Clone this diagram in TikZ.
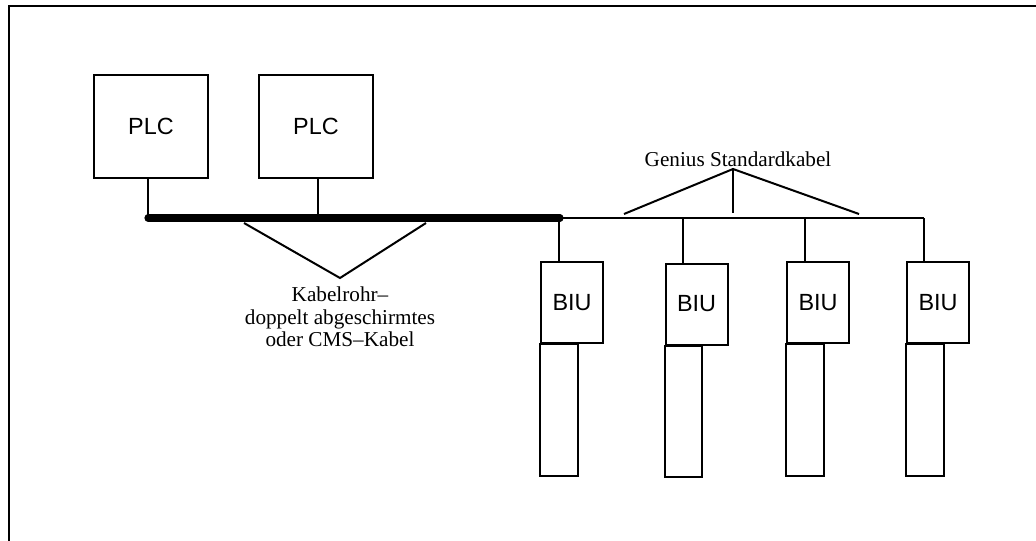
\documentclass[tikz,border=0pt]{standalone}
\usepackage{fontspec}
\setmainfont{Liberation Serif}
\setsansfont{Liberation Sans}
\usetikzlibrary{calc}

\begin{document}
\begin{tikzpicture}[x=0.5pt, y=-0.5pt, line width=1pt,
		plcbox/.style={draw, minimum width=57pt, minimum height=51.5pt, inner sep=0pt, font=\sffamily\fontsize{11.7}{14}\selectfont},
		biubox/.style={draw, minimum width=31pt, minimum height=40.5pt, inner sep=0pt, font=\sffamily\fontsize{11.7}{14}\selectfont},
		note/.style={font=\fontsize{10.6}{11.2}\selectfont, align=center, inner sep=0pt}]
		%%%%% START %%%%%
		\useasboundingbox (0, 0) rectangle (1036, 540);
		\draw (9, 560) -- (9, 6) -- (1060, 6);
		
		\node[plcbox] (plc1) at (151, 126.5) {PLC};
		\node[plcbox] (plc2) at (316, 126.5) {PLC};
		
		\coordinate (busL) at (148, 218);
		\coordinate (busM) at (560, 218);
		\coordinate (busR) at (924, 218);
		\coordinate (tap2) at (318, 218);
		
		\draw (plc1.south -| busL) -- (busL);
		\draw (plc2.south -| tap2) -- (tap2);
		\draw[line width=3.6pt, line cap=round] (busL) -- (busM);
		\draw (busM) -- (busR);
		
		\node[biubox] (biu1) at (572, 302.5) {BIU};
		\node[biubox] (biu2) at (696.5, 304) {BIU};
		\node[biubox] (biu3) at (818, 302.5) {BIU};
		\node[biubox] (biu4) at (938, 302.5) {BIU};
		
		\coordinate (tapA) at (559, 218);
		\coordinate (tapB) at (683, 218);
		\coordinate (tapC) at (805, 218);
		\coordinate (tapD) at (925, 218);
		\draw (tapA) -- (tapA |- biu1.north);
		\draw (tapB) -- (tapB |- biu2.north);
		\draw (tapC) -- (tapC |- biu3.north);
		\draw (busR) -- (busR |- biu4.north);
		
		\draw (biu1.south west) rectangle ++(19pt, -66pt);
		\draw (biu2.south west) rectangle ++(18.5pt, -65.5pt);
		\draw (biu3.south west) rectangle ++(19pt, -66pt);
		\draw (biu4.south west) rectangle ++(19pt, -66pt);
		
		\node[note] (genius) at (738, 159) {Genius Standardkabel};
		\coordinate (gtip) at (733, 169);
		\draw (624, 214) -- (gtip) -- (859, 214);
		\draw (gtip) -- (733, 213);
		
		\coordinate (rtip) at (340, 278);
		\draw (244, 223) -- (rtip) -- (426, 223);
		\node[note, below=4pt] (rohr) at (rtip) {Kabelrohr--\\doppelt abgeschirmtes\\oder CMS--Kabel};
		%%%%% END %%%%%
	\end{tikzpicture}
\end{document}
